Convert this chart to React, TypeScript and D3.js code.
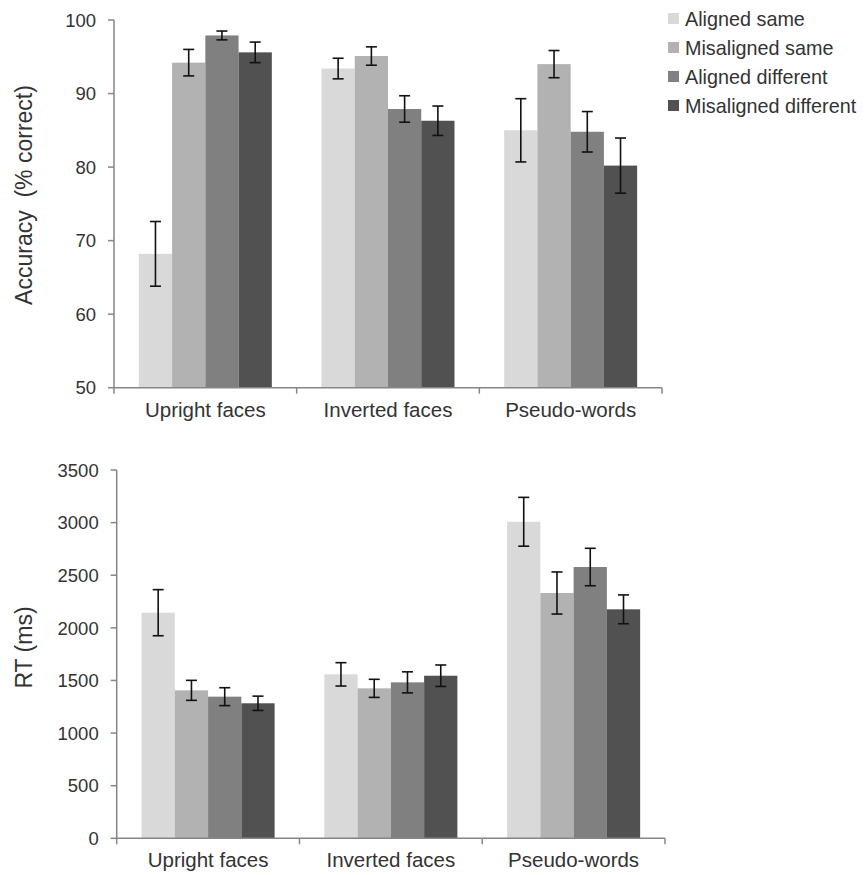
import React from "react";
import * as d3 from "d3";

const categories = ["Upright faces", "Inverted faces", "Pseudo-words"];
const seriesNames = ["Aligned same", "Misaligned same", "Aligned different", "Misaligned different"];
const seriesColors = ["#d9d9d9", "#b2b2b2", "#808080", "#515151"];

// Accuracy (% correct): one array per series, values per category
const accAlignedSame = [68.2, 93.4, 85.0];
const accMisalignedSame = [94.2, 95.1, 94.0];
const accAlignedDiff = [97.9, 87.9, 84.8];
const accMisalignedDiff = [95.6, 86.3, 80.2];
const accErrAlignedSame = [4.4, 1.4, 4.3];
const accErrMisalignedSame = [1.8, 1.25, 1.85];
const accErrAlignedDiff = [0.6, 1.8, 2.75];
const accErrMisalignedDiff = [1.4, 2.0, 3.75];

// RT (ms)
const rtAlignedSame = [2144, 1558, 3008];
const rtMisalignedSame = [1406, 1425, 2331];
const rtAlignedDiff = [1346, 1482, 2578];
const rtMisalignedDiff = [1283, 1545, 2176];
const rtErrAlignedSame = [219, 111, 232];
const rtErrMisalignedSame = [95, 86, 200];
const rtErrAlignedDiff = [85, 100, 178];
const rtErrMisalignedDiff = [68, 102, 137];

const accTicks = [50, 60, 70, 80, 90, 100];
const rtTicks = [0, 500, 1000, 1500, 2000, 2500, 3000, 3500];

const accMeans = [accAlignedSame, accMisalignedSame, accAlignedDiff, accMisalignedDiff];
const accErrs = [accErrAlignedSame, accErrMisalignedSame, accErrAlignedDiff, accErrMisalignedDiff];
const rtMeans = [rtAlignedSame, rtMisalignedSame, rtAlignedDiff, rtMisalignedDiff];
const rtErrs = [rtErrAlignedSame, rtErrMisalignedSame, rtErrAlignedDiff, rtErrMisalignedDiff];

const FONT = "'Liberation Sans', Arial, sans-serif";
const TEXT = "#333333";
const AXIS = "#868686";

type PanelProps = {
  x0: number; x1: number; yTop: number; yBottom: number;
  domain: [number, number]; ticks: number[];
  means: number[][]; errs: number[][];
  title: string; titleX: number; titleY: number; titleSize: number;
};

function Panel(p: PanelProps) {
  const xBand = d3.scaleBand<string>().domain(categories).range([p.x0, p.x1]);
  const bw = xBand.bandwidth();
  const groupW = bw * 0.728;
  const xInner = d3.scaleBand<string>().domain(seriesNames).range([0, groupW]);
  const y = d3.scaleLinear().domain(p.domain).range([p.yBottom, p.yTop]);
  const boundaries = [...categories.map((c) => xBand(c) as number), p.x1];
  return (
    <g>
      {/* bars */}
      {seriesNames.map((s, si) =>
        categories.map((c, ci) => {
          const bx = (xBand(c) as number) + (bw - groupW) / 2 + (xInner(s) as number);
          const v = p.means[si][ci];
          return (
            <rect key={s + c} x={bx} y={y(v)} width={xInner.bandwidth()} height={y(p.domain[0]) - y(v)} fill={seriesColors[si]} />
          );
        })
      )}
      {/* error bars */}
      {seriesNames.map((s, si) =>
        categories.map((c, ci) => {
          const cx = (xBand(c) as number) + (bw - groupW) / 2 + (xInner(s) as number) + xInner.bandwidth() / 2;
          const v = p.means[si][ci];
          const e = p.errs[si][ci];
          const yt = y(v + e);
          const yb = y(v - e);
          return (
            <g key={"e" + s + c} stroke="#111" strokeWidth={1.6}>
              <line x1={cx} x2={cx} y1={yt} y2={yb} />
              <line x1={cx - 5.5} x2={cx + 5.5} y1={yt} y2={yt} />
              <line x1={cx - 5.5} x2={cx + 5.5} y1={yb} y2={yb} />
            </g>
          );
        })
      )}
      {/* y axis */}
      <line x1={p.x0} x2={p.x0} y1={p.yTop} y2={p.yBottom} stroke={AXIS} strokeWidth={1.5} />
      {p.ticks.map((t) => (
        <g key={"t" + t}>
          <line x1={p.x0 - 6} x2={p.x0} y1={y(t)} y2={y(t)} stroke={AXIS} strokeWidth={1.5} />
          <text x={p.x0 - 18} y={y(t)} dy="0.36em" textAnchor="end" fontSize={18.5} fill={TEXT} fontFamily={FONT}>{t}</text>
        </g>
      ))}
      {/* x axis */}
      <line x1={p.x0} x2={p.x1} y1={p.yBottom} y2={p.yBottom} stroke={AXIS} strokeWidth={1.5} />
      {boundaries.map((b, i) => (
        <line key={"b" + i} x1={b} x2={b} y1={p.yBottom} y2={p.yBottom + 6} stroke={AXIS} strokeWidth={1.5} />
      ))}
      {categories.map((c) => (
        <text key={"c" + c} x={(xBand(c) as number) + bw / 2} y={p.yBottom + 29} textAnchor="middle" fontSize={20.5} fill={TEXT} fontFamily={FONT}>{c}</text>
      ))}
      <text transform={`translate(${p.titleX},${p.titleY}) rotate(-90)`} textAnchor="middle" dy="0.36em" fontSize={p.titleSize} fill={TEXT} fontFamily={FONT} style={{ whiteSpace: "pre" }}>{p.title}</text>
    </g>
  );
}

export default function App() {
  return (
    <div style={{ position: "absolute", left: 0, top: 0 }}>
      <svg width={865} height={875} viewBox="0 0 865 875" style={{ display: "block", background: "#fff" }}>
        <Panel x0={114} x1={662} yTop={20} yBottom={387.7} domain={[50, 100]} ticks={accTicks}
          means={accMeans} errs={accErrs} title={"Accuracy  (% correct)"} titleX={24} titleY={195} titleSize={23} />
        <Panel x0={116.7} x1={665} yTop={470} yBottom={838.3} domain={[0, 3500]} ticks={rtTicks}
          means={rtMeans} errs={rtErrs} title={"RT (ms)"} titleX={24} titleY={647.5} titleSize={23} />
        {seriesNames.map((s, i) => (
          <g key={"l" + s}>
            <rect x={668} y={13 + i * 29} width={11} height={11} fill={seriesColors[i]} />
            <text x={685} y={18.5 + i * 29} dy="0.36em" fontSize={19.8} fill={TEXT} fontFamily={FONT}>{s}</text>
          </g>
        ))}
      </svg>
    </div>
  );
}
